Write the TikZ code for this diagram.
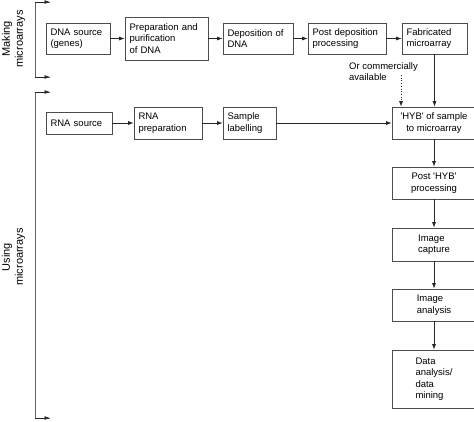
\documentclass[tikz,border=0pt]{standalone}
\usepackage{fontspec}
\setmainfont{Liberation Sans}
\usetikzlibrary{arrows.meta}
\tikzset{
  box/.style={draw=black!70, line width=0.7pt, rectangle, inner xsep=4.5pt, inner ysep=2pt,
    font=\fontsize{9.5pt}{11.5pt}\selectfont, align=left},
  lbox/.style={box, text width=#1},
  cbox/.style={box, minimum width=84pt},
  conn/.style={draw=black!85, line width=0.7pt, -{Latex[length=5.5pt,width=4pt]}},
  brk/.style={draw=black!60, line width=0.7pt},
  side/.style={rotate=90, align=center, font=\fontsize{11pt}{13pt}\selectfont},
}
\begin{document}
\begin{tikzpicture}[x=1pt,y=-1pt]
\useasboundingbox (0,0) rectangle (474,421);
% side brackets
\node[side] (mk) at (13.5,39) {Making\\microarrays};
\node[side] (us) at (13.5,257) {Using\\microarrays};
\coordinate (mt) at (35,2);
\coordinate (mb) at (35,77);
\coordinate (mte) at (50,2);
\coordinate (mbe) at (50,77);
\coordinate (ut) at (35,92);
\coordinate (ub) at (35,418);
\coordinate (ute) at (50,92);
\coordinate (ube) at (50,418);
\draw[brk] (mte) -- (mt) -- (mb) -- (mbe);
\draw[brk] (ute) -- (ut) -- (ub) -- (ube);
\draw[conn] (mt) -- (mte);
\draw[conn] (mb) -- (mbe);
\draw[conn] (ut) -- (ute);
\draw[conn] (ub) -- (ube);
% top row
\node[lbox=55pt, minimum height=31pt] (dna) at (78,38.5) {DNA source\\(genes)};
\node[lbox=74pt, minimum height=43pt] (prep) at (166.5,38.5) {Preparation and\\purification\\of DNA};
\node[lbox=61pt, minimum height=31pt] (dep) at (258,38.5) {Deposition of\\DNA};
\node[lbox=69pt, minimum height=31pt] (post) at (347,38.5) {Post deposition\\processing};
\node[lbox=56pt, minimum height=31pt] (fab) at (434.5,38.5) {Fabricated\\microarray};
\draw[conn] (dna) -- (prep);
\draw[conn] (prep) -- (dep);
\draw[conn] (dep) -- (post);
\draw[conn] (post) -- (fab);
% second row
\node[lbox=57pt, minimum height=22pt] (rna) at (79,123) {RNA source};
\node[lbox=59pt, minimum height=32pt] (rnap) at (168,123) {RNA\\preparation};
\node[lbox=44pt, minimum height=32pt] (lab) at (249.5,123) {Sample\\labelling};
\node[cbox, align=center, minimum height=32pt] (hyb) at (434,123) {\textquotesingle HYB\textquotesingle\ of sample\\to microarray};
\draw[conn] (rna) -- (rnap);
\draw[conn] (rnap) -- (lab);
\draw[conn] (lab) -- (hyb);
% commercially available
\node[font=\fontsize{9.5pt}{11.5pt}\selectfont, align=left, anchor=north west, inner sep=0pt] (comm) at (349,62) {Or commercially\\available};
\coordinate (cs) at (401,75);
\draw[conn, dotted] (cs) -- (cs |- hyb.north);
\draw[conn] (fab.south) -- (fab.south |- hyb.north);
% right column
\node[cbox, align=center, minimum height=32pt] (phyb) at (434,183) {Post \textquotesingle HYB\textquotesingle\\processing};
\node[cbox, minimum height=33pt] (cap) at (434,244.5) {Image\\capture};
\node[cbox, minimum height=32pt] (ana) at (434,305) {Image\\analysis};
\node[cbox, minimum height=58pt] (dat) at (434,379) {Data\\analysis/\\data\\mining};
\draw[conn] (hyb) -- (phyb);
\draw[conn] (phyb) -- (cap);
\draw[conn] (cap) -- (ana);
\draw[conn] (ana) -- (dat);
\end{tikzpicture}
\end{document}
